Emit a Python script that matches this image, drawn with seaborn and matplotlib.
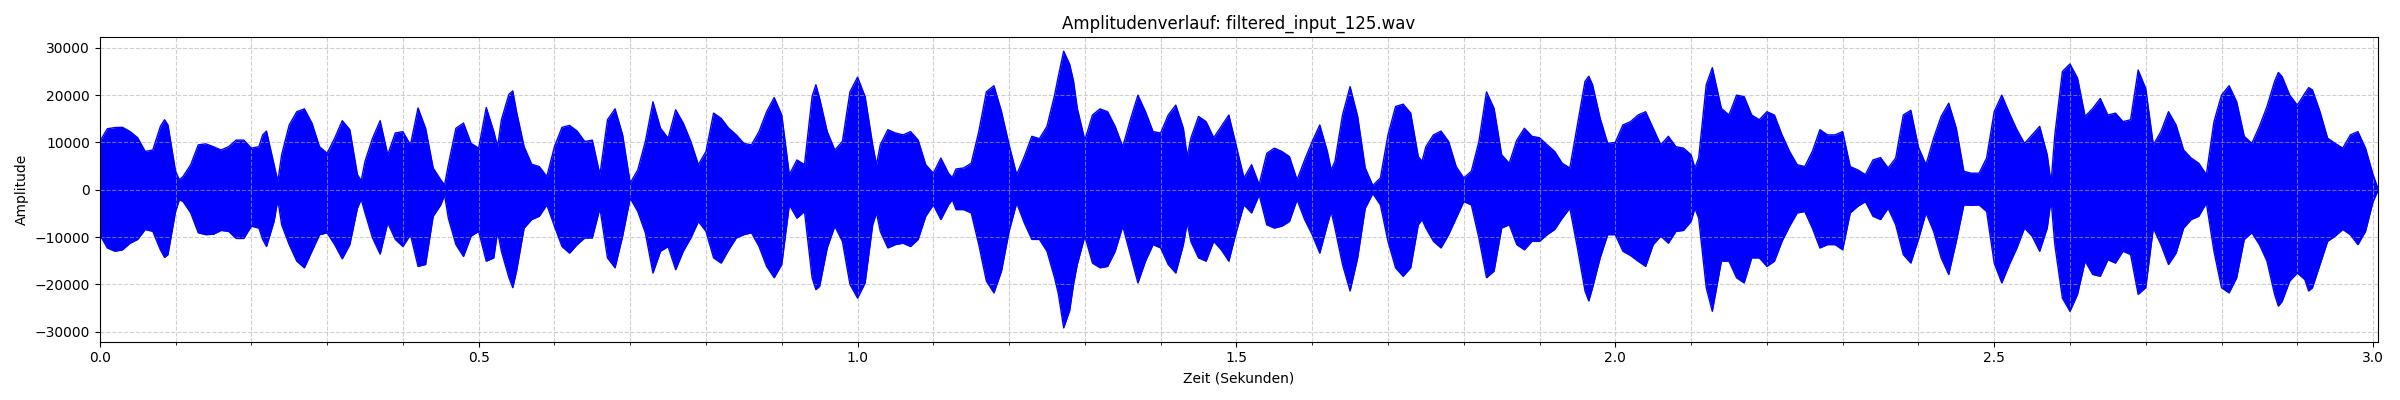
import numpy as np
import pandas as pd
import matplotlib
matplotlib.use("Agg")
import matplotlib.pyplot as plt
from matplotlib.ticker import MultipleLocator
import seaborn as sns

# Envelope of the waveform (upper / lower amplitude), per section
t_a = [0.00, 0.01, 0.02, 0.03, 0.04, 0.05, 0.06, 0.07, 0.08, 0.0855, 0.09, 0.10, 0.105, 0.11, 0.12,
       0.13, 0.14, 0.15, 0.16, 0.17, 0.18, 0.19, 0.20, 0.21, 0.215, 0.22, 0.23, 0.235, 0.24, 0.25,
       0.26, 0.27, 0.28, 0.29, 0.30, 0.31, 0.32, 0.33, 0.34, 0.345, 0.35, 0.36, 0.37, 0.38, 0.39]
up_a = [10200, 12900, 13150, 13200, 12300, 11000, 8100, 8400, 13400, 14800, 13700, 3900, 2100, 2800, 5300,
        9500, 9700, 9100, 8400, 9100, 10500, 10500, 8800, 9100, 11600, 12400, 5300, 1800, 7400, 13700,
        16500, 17100, 14100, 9100, 7700, 10900, 14600, 12700, 3200, 1900, 6000, 10900, 14600, 7400, 12000]
lo_a = [-9500, -12300, -13000, -12700, -11300, -10500, -8400, -8800, -12700, -14300, -13700, -4600, -2100, -2500, -4900,
        -9100, -9500, -9400, -8600, -8800, -10300, -10300, -7700, -8100, -10500, -12000, -6700, -2100, -7400, -11600,
        -15100, -16500, -13000, -9500, -9100, -11600, -14600, -11600, -3900, -2000, -4900, -10200, -13600, -7000, -10500]

t_b = [0.40, 0.41, 0.42, 0.43, 0.44, 0.45, 0.455, 0.46, 0.47, 0.48, 0.49, 0.50, 0.51, 0.52, 0.525,
       0.53, 0.54, 0.545, 0.55, 0.56, 0.57, 0.58, 0.59, 0.60, 0.61, 0.62, 0.63, 0.64, 0.65, 0.66,
       0.67, 0.68, 0.69, 0.70, 0.71, 0.72, 0.73, 0.74, 0.75, 0.76, 0.77, 0.78, 0.79]
up_b = [12300, 9500, 17300, 13000, 4600, 2100, 1000, 5300, 13000, 14100, 9800, 8800, 17400, 12300, 9100,
        14800, 20200, 20900, 16500, 9100, 5400, 4900, 2800, 9100, 13200, 13600, 12400, 10200, 10500, 3200,
        14800, 17100, 11600, 1400, 4200, 10200, 18600, 13000, 10900, 16900, 14100, 10200, 5300]
lo_b = [-12000, -9500, -16200, -15800, -5600, -3200, -1100, -6000, -11600, -14100, -9800, -8800, -15100, -14400, -8800,
        -13000, -18600, -20700, -17200, -8100, -6300, -5600, -3200, -7700, -12000, -13400, -11600, -10200, -10200, -3900,
        -14400, -16500, -9800, -1800, -4600, -9100, -17600, -13000, -12000, -16900, -13000, -10200, -6700]

t_c = [0.80, 0.81, 0.82, 0.83, 0.84, 0.85, 0.86, 0.87, 0.88, 0.89, 0.90, 0.91, 0.92, 0.93, 0.94,
       0.945, 0.95, 0.96, 0.97, 0.98, 0.99, 1.00, 1.01, 1.02, 1.025, 1.03, 1.04, 1.05, 1.06, 1.07,
       1.08, 1.09, 1.10, 1.11, 1.12, 1.125, 1.13, 1.14, 1.15, 1.16, 1.17, 1.18, 1.19]
up_c = [8100, 16200, 15100, 13000, 11600, 9800, 9500, 12300, 16500, 19500, 15800, 3200, 6300, 5300, 19700,
        22200, 19300, 12300, 8400, 10200, 20700, 23800, 19700, 9500, 5300, 9500, 12700, 12000, 11600, 12300,
        10500, 5300, 3500, 6700, 3500, 2600, 4400, 4600, 5600, 12300, 20700, 22000, 16500]
lo_c = [-8800, -14400, -15500, -12700, -10200, -9500, -9100, -12000, -16200, -18600, -15800, -3200, -6000, -4600, -18600,
        -21100, -20400, -12300, -7700, -10900, -20000, -22900, -19700, -7400, -4900, -8800, -12300, -11600, -11300, -12000,
        -10500, -5600, -3200, -6300, -3200, -2100, -4200, -4200, -4900, -11600, -19300, -21800, -17200]

t_d = [1.20, 1.21, 1.22, 1.23, 1.24, 1.25, 1.26, 1.265, 1.272, 1.28, 1.285, 1.29, 1.30, 1.31, 1.32,
       1.33, 1.34, 1.35, 1.36, 1.37, 1.38, 1.39, 1.40, 1.41, 1.42, 1.43, 1.435, 1.44, 1.45, 1.46,
       1.47, 1.48, 1.49, 1.50, 1.51, 1.52, 1.53, 1.54, 1.55, 1.56, 1.57, 1.58, 1.59]
up_d = [9500, 3200, 7000, 11300, 10800, 13400, 20000, 24000, 29300, 26500, 23000, 17200, 10500, 15800, 17100,
        16500, 13400, 9100, 14800, 20000, 16500, 12300, 12000, 15800, 17900, 13000, 7000, 11000, 15500, 14400,
        11000, 13400, 15800, 9100, 2500, 5300, 1100, 7700, 8800, 8100, 7000, 2100, 6300]
lo_d = [-8800, -2800, -7000, -10500, -10500, -13000, -18600, -22000, -29200, -25500, -20000, -15800, -9800, -15500, -16500,
        -16200, -13000, -7700, -13700, -19700, -15100, -11600, -12300, -15800, -17600, -11600, -7000, -11000, -14400, -15100,
        -10900, -12700, -15100, -8800, -3200, -4900, -1100, -7400, -8100, -7700, -6700, -2100, -6300]

t_e = [1.60, 1.61, 1.62, 1.625, 1.63, 1.64, 1.65, 1.66, 1.67, 1.68, 1.69, 1.70, 1.71, 1.72, 1.73,
       1.74, 1.745, 1.75, 1.76, 1.77, 1.78, 1.79, 1.80, 1.81, 1.82, 1.83, 1.84, 1.85, 1.86, 1.87,
       1.88, 1.89, 1.90, 1.91, 1.92, 1.93, 1.94, 1.95, 1.96, 1.965, 1.97, 1.98, 1.99]
up_e = [10200, 13700, 8100, 4200, 6000, 15800, 21800, 15500, 4600, 900, 2500, 11600, 17600, 18100, 16200,
        7000, 6000, 9100, 11600, 12400, 10200, 4900, 2500, 3900, 10200, 20700, 17200, 7400, 5600, 10500,
        13000, 11300, 11000, 9500, 8100, 5600, 4600, 13700, 22900, 24000, 22200, 15100, 9800]
lo_e = [-9500, -13400, -7400, -4600, -8100, -15800, -21400, -14400, -3900, -800, -3200, -10900, -16500, -18300, -16500,
        -7400, -6300, -8100, -10900, -12300, -9500, -6000, -2500, -3200, -10200, -18600, -17200, -8100, -7400, -11600,
        -12700, -10900, -10900, -9500, -8400, -6000, -3900, -12300, -21400, -23500, -20700, -14400, -9500]

t_f = [2.00, 2.01, 2.02, 2.03, 2.04, 2.05, 2.06, 2.07, 2.08, 2.09, 2.10, 2.105, 2.11, 2.12, 2.128,
       2.14, 2.15, 2.16, 2.17, 2.18, 2.19, 2.20, 2.21, 2.22, 2.23, 2.24, 2.25, 2.26, 2.27, 2.28,
       2.29, 2.30, 2.31, 2.32, 2.33, 2.34, 2.35, 2.36, 2.37, 2.38, 2.39]
up_f = [10000, 13700, 14400, 15800, 16500, 13000, 9500, 11300, 9100, 8800, 7400, 4600, 6700, 22200, 25800,
        17200, 15800, 20000, 19700, 15800, 14800, 16500, 15800, 11600, 8100, 5300, 4900, 8100, 12700, 11600,
        11600, 12300, 4900, 4200, 3200, 6300, 6800, 4600, 6700, 15800, 16800]
lo_f = [-9500, -13000, -13900, -15100, -16200, -11600, -9800, -11300, -8800, -8600, -6700, -3900, -6000, -20700, -25700,
        -15100, -15100, -18600, -19700, -14400, -14400, -16200, -15100, -10900, -7700, -4900, -4600, -8100, -12300, -11600,
        -11600, -12700, -4900, -3500, -2500, -5600, -6300, -3900, -7400, -13700, -15500]

t_g = [2.40, 2.41, 2.42, 2.43, 2.44, 2.45, 2.46, 2.47, 2.48, 2.49, 2.50, 2.51, 2.52, 2.53, 2.54,
       2.55, 2.56, 2.57, 2.575, 2.58, 2.59, 2.60, 2.61, 2.62, 2.63, 2.64, 2.65, 2.66, 2.67, 2.68,
       2.69, 2.70, 2.71, 2.72, 2.73, 2.74, 2.75, 2.76, 2.77, 2.78, 2.79]
up_g = [9000, 5300, 10900, 15500, 18300, 13000, 3900, 3500, 3500, 6700, 16500, 20000, 16200, 12700, 9800,
        11600, 13400, 7400, 1400, 11600, 25000, 26600, 23600, 15500, 17200, 19300, 15800, 16200, 14400, 14800,
        25300, 21400, 9500, 12300, 16500, 13700, 8400, 6700, 5600, 3200, 14400]
lo_g = [-10500, -4900, -8800, -14400, -17900, -10900, -3200, -3300, -3200, -4600, -15500, -19700, -15800, -12300, -8100,
        -9800, -13000, -8100, -2100, -11600, -22900, -25700, -22100, -15100, -17900, -18300, -14800, -15500, -13000, -13700,
        -22100, -20700, -8100, -11600, -15800, -13400, -8100, -6300, -5600, -2800, -13000]

t_h = [2.80, 2.81, 2.82, 2.83, 2.84, 2.85, 2.86, 2.87, 2.875, 2.88, 2.89, 2.90, 2.91, 2.915, 2.92,
       2.93, 2.94, 2.95, 2.96, 2.97, 2.98, 2.99, 3.00, 3.007]
up_h = [20000, 22000, 18600, 11300, 9800, 13400, 17600, 22900, 24800, 23900, 20000, 17900, 20400, 21600, 21100,
        16500, 10900, 9800, 8800, 11600, 12300, 8800, 3200, 0]
lo_h = [-20700, -21800, -18600, -10500, -9100, -11600, -15100, -22100, -24600, -23600, -19300, -17600, -19000, -21400, -20700,
        -15800, -10900, -9800, -8400, -9500, -11600, -8800, -2500, 0]

title = "Amplitudenverlauf: filtered_input_125.wav"
xlabel = "Zeit (Sekunden)"
ylabel = "Amplitude"

time = np.array(t_a + t_b + t_c + t_d + t_e + t_f + t_g + t_h)
upper = np.array(up_a + up_b + up_c + up_d + up_e + up_f + up_g + up_h, dtype=float)
lower = np.array(lo_a + lo_b + lo_c + lo_d + lo_e + lo_f + lo_g + lo_h, dtype=float)

df = pd.concat([
    pd.DataFrame({"time": time, "amp": upper, "side": "upper"}),
    pd.DataFrame({"time": time, "amp": lower, "side": "lower"}),
], ignore_index=True)

fig, ax = plt.subplots(figsize=(24, 4), dpi=100)
sns.lineplot(data=df, x="time", y="amp", units="side", estimator=None,
             color="blue", linewidth=1.0, ax=ax, legend=False)
ax.fill_between(time, lower, upper, color="blue", linewidth=0)

ax.set_title(title)
ax.set_xlabel(xlabel)
ax.set_ylabel(ylabel)
ax.set_xlim(0, time[-1])
ax.xaxis.set_major_locator(MultipleLocator(0.5))
ax.xaxis.set_minor_locator(MultipleLocator(0.1))
ax.yaxis.set_major_locator(MultipleLocator(10000))
ax.grid(True, which="both", linestyle="--", alpha=0.6)
fig.tight_layout()
fig.savefig("out.png", dpi=100)
